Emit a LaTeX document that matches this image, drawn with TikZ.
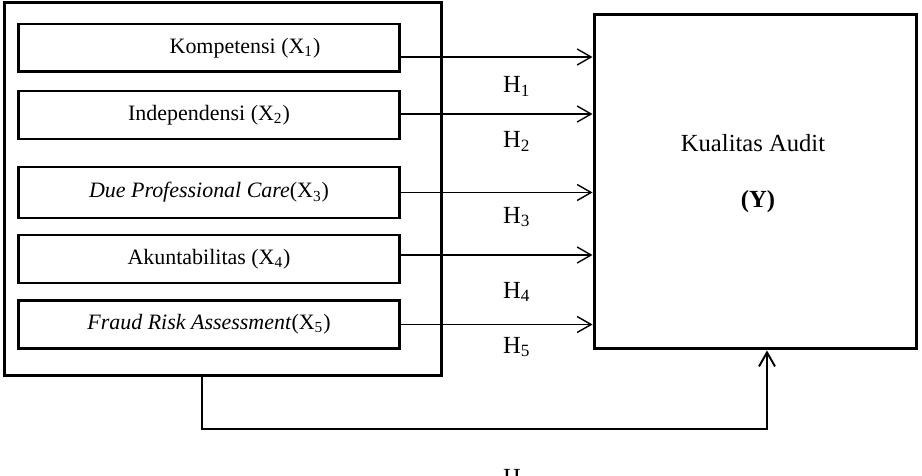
\documentclass[tikz,border=0pt]{standalone}
\usepackage{fontspec}
\setmainfont{Liberation Serif}
\usetikzlibrary{arrows.meta,positioning}

\begin{document}
\begin{tikzpicture}[x=0.02cm,y=-0.02cm,
  var/.style={draw,line width=1.7pt,minimum width=7.64cm,minimum height=0.96cm,inner sep=0pt,font=\fontsize{12.5}{15}\selectfont},
  hyp/.style={anchor=base west,font=\fontsize{14}{16}\selectfont},
  link/.style={line width=0.8pt,-{Straight Barb[length=0.28cm,width=0.32cm]}}]
  \useasboundingbox (0,0) rectangle (922,476);

  % independent variables
  \node[draw,line width=1.7pt,minimum width=8.76cm,minimum height=7.48cm] (grp) at (223,189) {};
  \node[var] (x1) at (209,48) {\hspace*{1.44cm}Kompetensi (X\textsubscript{1})};
  \node[var] (x2) at (209,115) {Independensi (X\textsubscript{2})};
  \node[var,minimum height=1.02cm] (x3) at (209,192.5) {\textit{Due Professional Care}(X\textsubscript{3})};
  \node[var] (x4) at (209,259) {Akuntabilitas (X\textsubscript{4})};
  \node[var] (x5) at (209,324.5) {\textit{Fraud Risk Assessment}(X\textsubscript{5})};

  % dependent variable
  \node[draw,line width=1.7pt,minimum width=6.46cm,minimum height=6.7cm] (y) at (755.5,181.5) {};
  \node[anchor=base,font=\fontsize{14}{16}\selectfont] (ylab) at (753,152) {Kualitas Audit};
  \node[anchor=base,font=\fontsize{14}{16}\selectfont] (ysym) at (758,208) {\textbf{(Y)}};

  \foreach \i/\d in {1/-0.18,2/0.02,3/0,4/0.08,5/0}
    \draw[link] ([yshift=\d cm]x\i.east) -- ([yshift=\d cm]x\i.east -| y.west);

  \foreach \i/\yy in {1/93,2/148,3/223,4/298,5/353,6/485}
    \node[hyp] (h\i) at (497,\yy) {H\textsubscript{\i}};

  % simultaneous effect
  \coordinate (turn) at (202,429);
  \draw[link,line width=1.1pt] (turn |- grp.south) -- (turn) -| ([xshift=0.23cm]y.south);
\end{tikzpicture}
\end{document}
